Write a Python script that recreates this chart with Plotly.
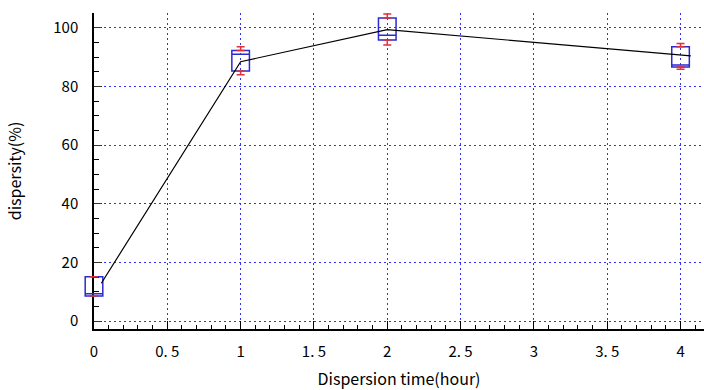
import plotly.graph_objects as go

# Box statistics per dispersion time
times = [0, 1, 2, 4]
q1 = [8.6, 85.3, 95.9, 86.7]
median = [9.3, 91.0, 97.5, 87.4]
q3 = [15.1, 92.3, 103.4, 93.6]
upper = [15.1, 93.6, 104.8, 94.7]
lower = [8.6, 84.0, 94.2, 85.9]

# Connecting line (mean trend)
line_x = [0.05, 1.0, 2.0, 4.07]
line_y = [12.9, 88.5, 99.4, 90.5]

x_tickvals = [0, 0.5, 1, 1.5, 2, 2.5, 3, 3.5, 4]
x_ticktext = ["0", "0. 5", "1", "1. 5", "2", "2. 5", "3", "3. 5", "4"]
y_tickvals = [0, 20, 40, 60, 80, 100]

FONT = "Noto Sans CJK JP, Noto Sans, sans-serif"
BLUE = "#2a2ad0"
GRID = "#3030ff"

X_MAX = 4.16
Y_RANGE = [-2.7, 105.1]
ML = 80          # left margin (px)
PLOT_W = 704 - ML
AXIS_OFF = 14    # px between paper domain start and x=0
x_dom0 = AXIS_OFF / PLOT_W
px_per_unit = (PLOT_W - AXIS_OFF) / X_MAX
x2_min = -AXIS_OFF / px_per_unit

fig = go.Figure()

# empty trace on the main (axes) subplot
fig.add_trace(go.Scatter(x=[None], y=[None], xaxis="x", yaxis="y",
                         showlegend=False, hoverinfo="skip"))

# red whiskers (upper and lower) via error bars
fig.add_trace(go.Scatter(
    x=times, y=q3, mode="markers", marker=dict(size=0.1, color="rgba(0,0,0,0)"),
    error_y=dict(type="data", symmetric=False,
                 array=[u - a for u, a in zip(upper, q3)],
                 arrayminus=[0] * len(times),
                 color="#e0303a", thickness=1.5, width=4),
    xaxis="x2", yaxis="y2", showlegend=False, hoverinfo="skip"))
fig.add_trace(go.Scatter(
    x=times, y=q1, mode="markers", marker=dict(size=0.1, color="rgba(0,0,0,0)"),
    error_y=dict(type="data", symmetric=False,
                 array=[0] * len(times),
                 arrayminus=[a - l for a, l in zip(q1, lower)],
                 color="#e0303a", thickness=1.5, width=4),
    xaxis="x2", yaxis="y2", showlegend=False, hoverinfo="skip"))

fig.add_trace(go.Box(
    x=times, q1=q1, median=median, q3=q3,
    lowerfence=q1, upperfence=q3,
    width=0.12, line=dict(color=BLUE, width=1.5),
    fillcolor="rgba(255,255,255,0)", boxpoints=False,
    xaxis="x2", yaxis="y2", showlegend=False, hoverinfo="skip"))

fig.add_trace(go.Scatter(
    x=line_x, y=line_y, mode="lines",
    line=dict(color="black", width=1.2),
    xaxis="x2", yaxis="y2", showlegend=False))

fig.update_layout(
    width=704, height=390,
    margin=dict(l=ML, r=0, t=13, b=61),
    paper_bgcolor="white", plot_bgcolor="rgba(0,0,0,0)",
    font=dict(family=FONT, size=15, color="black"),
    xaxis=dict(
        domain=[x_dom0, 1], anchor="y",
        range=[0, X_MAX], tickvals=x_tickvals, ticktext=x_ticktext,
        showgrid=True, gridcolor=GRID, griddash="2px,3px", gridwidth=1,
        showline=True, linecolor="black", linewidth=1.5,
        ticks="inside", ticklen=8, tickcolor="black",
        minor=dict(dtick=0.1, ticks="inside", ticklen=4, tickcolor="black", showgrid=False),
        zeroline=False, ticklabelstandoff=8,
        title=dict(text="Dispersion time(hour)", font=dict(size=16), standoff=15),
    ),
    yaxis=dict(
        domain=[0, 1], anchor="x",
        range=Y_RANGE, tickvals=y_tickvals,
        showgrid=True, gridcolor=GRID, griddash="2px,3px", gridwidth=1,
        showline=True, linecolor="black", linewidth=1.5,
        ticks="inside", ticklen=8, tickcolor="#333333",
        minor=dict(dtick=5, ticks="inside", ticklen=5, tickcolor="black", showgrid=False),
        zeroline=False, ticklabelstandoff=11,
        title=dict(text="dispersity(%)", font=dict(size=16), standoff=28),
    ),
    xaxis2=dict(domain=[0, 1], anchor="y2", range=[x2_min, X_MAX],
                visible=False, showgrid=False, zeroline=False),
    yaxis2=dict(domain=[0, 1], anchor="x2", range=Y_RANGE,
                visible=False, showgrid=False, zeroline=False),
)

fig.write_html("out.html", post_script="document.body.style.margin='0';",
               config={"displayModeBar": False})
